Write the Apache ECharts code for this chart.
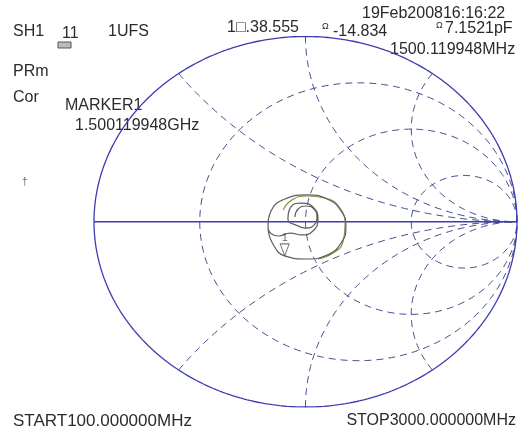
<!DOCTYPE html>
<html>
<head>
<meta charset="utf-8">
<script src="https://cdn.jsdelivr.net/npm/echarts@6/dist/echarts.min.js"></script>
<style>
  html, body { margin: 0; padding: 0; background: #ffffff; }
  #chart { width: 530px; height: 434px; }
</style>
</head>
<body>
<div id="chart"></div>
<script>
// Smith chart grid: normalized resistance circles and reactance arcs
const resistanceCircles = [1 / 3, 1, 3];
const reactanceArcs = [0.5, 1, 2, -0.5, -1, -2];

// S11 trace, reflection coefficient [Re, Im], spiralling outward
const traceMain = [
  [-0.050, 0.026], [-0.035, 0.069], [0.002, 0.085], [0.040, 0.069], [0.054, 0.026],
  [0.040, -0.018], [0.002, -0.034], [-0.035, -0.023],
  [-0.083, 0.015], [-0.069, 0.080], [-0.017, 0.101], [0.035, 0.080], [0.059, 0.015],
  [0.035, -0.050], [-0.017, -0.071], [-0.073, -0.061],
  [-0.125, -0.077], [-0.177, -0.028],
  [-0.163, 0.058], [-0.097, 0.123], [0.007, 0.145], [0.102, 0.123], [0.168, 0.058],
  [0.191, -0.028], [0.168, -0.115], [0.102, -0.180], [0.007, -0.201], [-0.098, -0.184],
  [-0.154, -0.120], [-0.177, -0.039]
];

// Memory trace, reflection coefficient [Re, Im]
const traceMemory = [
  [-0.106, 0.063], [-0.064, 0.118], [0.007, 0.139], [0.092, 0.128], [0.163, 0.074],
  [0.187, -0.018], [0.177, -0.109], [0.130, -0.169], [0.059, -0.201]
];

// Marker 1 readout
const z0 = 50;
const markerR = 38.555;
const markerX = -14.834;

// Header / footer texts
const labelsLeft = ['SH1', 'PRm', 'Cor'];
const markerName = 'MARKER1';
const markerFreqText = '1.500119948GHz';
const markerReadR = '1\u25A1.38.555';
const markerReadX = '-14.834';
const markerReadC = '7.1521pF';
const markerReadF = '1500.119948MHz';
const dateText = '19Feb200816:16:22';
const startText = 'START100.000000MHz';
const stopText = 'STOP3000.000000MHz';

const lineBlue = '#3d3db0';
const dashColor = '#4a4a90';
const textColor = '#2b2b2b';
const font = '16px "Liberation Sans", Arial, sans-serif';

function gammaFromZ(r, x) {
  // Γ = (z - 1) / (z + 1), z normalized
  const zr = r / z0, zx = x / z0;
  const nr = zr - 1, ni = zx;
  const dr = zr + 1, di = zx;
  const d = dr * dr + di * di;
  return [(nr * dr + ni * di) / d, (ni * dr - nr * di) / d];
}

function circlePoints(cx, cy, rad, a0, a1, steps) {
  const pts = [];
  for (let i = 0; i <= steps; i++) {
    const a = a0 + (a1 - a0) * i / steps;
    pts.push([cx + rad * Math.cos(a), cy + rad * Math.sin(a)]);
  }
  return pts;
}

function resistancePath(r) {
  return circlePoints(r / (r + 1), 0, 1 / (r + 1), 0, 2 * Math.PI, 240);
}

function reactancePath(x) {
  const s = Math.sign(x), ax = Math.abs(x);
  const px = (ax * ax - 1) / (ax * ax + 1), py = 2 * ax / (ax * ax + 1);
  let start = Math.atan2(py - 1 / ax, px - 1);
  if (start < 0) start += 2 * Math.PI;
  const pts = circlePoints(1, 1 / ax, 1 / ax, start, 1.5 * Math.PI, 200);
  return pts.map(p => [p[0], s * p[1]]);
}

const series = [];

// outer |Γ| = 1 circle
series.push({
  type: 'line', data: circlePoints(0, 0, 1, 0, 2 * Math.PI, 360),
  showSymbol: false, silent: true, z: 3,
  lineStyle: { color: lineBlue, width: 1.3 }
});
// real axis
series.push({
  type: 'line', data: [[-1, 0], [1, 0]],
  showSymbol: false, silent: true, z: 3,
  lineStyle: { color: lineBlue, width: 1.3 }
});
resistanceCircles.forEach(r => series.push({
  type: 'line', data: resistancePath(r), showSymbol: false, silent: true, z: 2,
  lineStyle: { color: dashColor, width: 1, type: [7, 5] }
}));
reactanceArcs.forEach(x => series.push({
  type: 'line', data: reactancePath(x), showSymbol: false, silent: true, z: 2,
  lineStyle: { color: dashColor, width: 1, type: [7, 5] }
}));

series.push({
  type: 'line', data: traceMemory, smooth: 0.5, showSymbol: false, z: 4,
  lineStyle: { color: '#8f8f45', width: 1.2 }
});
series.push({
  type: 'line', data: traceMain, smooth: 0.5, showSymbol: false, z: 5,
  lineStyle: { color: '#5e5e5e', width: 1.2 }
});

// marker 1 triangle (tip on the trace)
series.push({
  type: 'scatter', data: [gammaFromZ(markerR, markerX)], z: 6,
  symbol: 'path://M0,0 L10,0 L5,12 Z', symbolSize: [9, 12], symbolOffset: [0, -6],
  itemStyle: { color: 'rgba(255,255,255,0)', borderColor: '#555', borderWidth: 1 },
  label: { show: true, position: 'top', distance: 0, formatter: '1',
    color: '#444', fontSize: 11, fontFamily: '"Liberation Sans", Arial' }
});

function txt(text, x, y, opts) {
  return Object.assign({
    type: 'text', silent: true,
    style: Object.assign({
      text: text, x: x, y: y, font: font, fill: textColor,
      textAlign: 'left', textVerticalAlign: 'middle', align: 'left', verticalAlign: 'middle'
    }, opts || {})
  });
}

const graphic = [
  txt(labelsLeft[0], 13, 32),
  txt('11', 62, 34),
  { type: 'rect', shape: { x: 58, y: 42, width: 13, height: 6 },
    style: { fill: '#bbb', stroke: '#555', lineWidth: 1 } },
  txt('1UFS', 108, 32),
  txt(labelsLeft[1], 13, 72),
  txt(labelsLeft[2], 13, 98),
  txt(markerName, 65, 106),
  txt(markerFreqText, 75, 126),
  txt(markerReadR, 227, 28),
  txt('\u03A9', 322, 27, { font: '9px "Liberation Sans", Arial' }),
  txt(markerReadX, 333, 32),
  txt(dateText, 362, 14),
  txt('\u03A9', 436, 26, { font: '9px "Liberation Sans", Arial' }),
  txt(markerReadC, 445, 29),
  txt(markerReadF, 390, 50),
  txt('\u2020', 22, 182, { font: '10px "Liberation Sans", Arial', fill: '#666' }),
  txt(startText, 13, 421, { font: '17px "Liberation Sans", Arial, sans-serif' }),
  txt(stopText, 516, 421, { textAlign: 'right', align: 'right' })
];

const chart = echarts.init(document.getElementById('chart'), null, { renderer: 'canvas' });
chart.setOption({
  animation: false,
  backgroundColor: '#ffffff',
  grid: { left: 94, top: 36.5, width: 423, height: 370.5 },
  xAxis: { type: 'value', min: -1, max: 1, show: false },
  yAxis: { type: 'value', min: -1, max: 1, show: false },
  series: series,
  graphic: graphic
});
</script>
</body>
</html>
